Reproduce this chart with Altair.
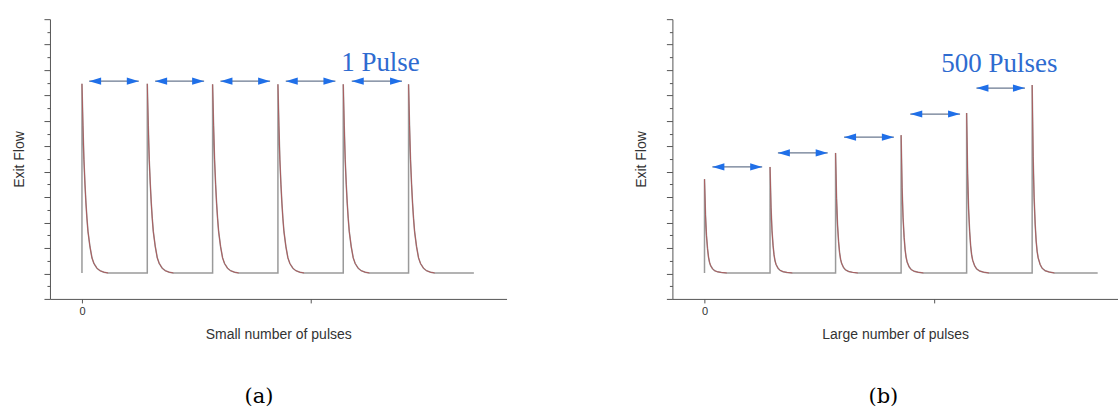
import altair as alt
import pandas as pd

# ---------------- data ----------------
pulse_times = [0, 1, 2, 3, 4, 5]
signal_end = 6.0
baseline = 10.2

left_peaks = [84.6, 84.6, 84.4, 84.4, 84.4, 84.4]
right_peaks = [47.1, 51.9, 57.4, 64.4, 73.1, 84.1]

# decay shape after each pulse: offset (in pulse periods) and fraction of peak height
left_decay_offsets = [0, 0.015, 0.03, 0.046, 0.061, 0.076, 0.092, 0.122, 0.153, 0.183, 0.229, 0.275, 0.336, 0.4]
left_decay_fraction = [1, 0.78, 0.6, 0.47, 0.37, 0.29, 0.22, 0.14, 0.08, 0.05, 0.025, 0.012, 0.004, 0]
right_decay_offsets = [0, 0.015, 0.03, 0.046, 0.061, 0.076, 0.092, 0.122, 0.153, 0.2, 0.26, 0.34]
right_decay_fraction = [1, 0.62, 0.4, 0.26, 0.17, 0.115, 0.08, 0.045, 0.025, 0.012, 0.005, 0]

left_arrow_start = [0.11, 1.12, 2.12, 3.12, 4.13]
left_arrow_end = [0.87, 1.87, 2.88, 3.88, 4.9]
left_arrow_y = [85.6, 85.6, 85.6, 85.6, 85.6]

right_arrow_start = [0.12, 1.12, 2.13, 3.14, 4.15]
right_arrow_end = [0.88, 1.88, 2.89, 3.9, 4.89]
right_arrow_y = [51.9, 57.4, 63.6, 72.7, 82.9]

left_label = "1 Pulse"
right_label = "500 Pulses"
label_pos = [4.57, 92.6]
right_label_pos = [4.5, 92.3]
left_xtitle = "Small number of pulses"
right_xtitle = "Large number of pulses"
captions = ["(a)", "(b)"]
caption_pos = [2.71, -38.5]
right_caption_pos = [2.73, -38.5]

y_major = [0, 10, 20, 30, 40, 50, 60, 70, 80, 90, 100, 110]
y_minor = [5, 15, 25, 35, 45, 55, 65, 75, 85, 95, 105]
x_ticks = [0, 3.5]


def build_signal(peaks, offs, fracs):
    rows, decay = [], []
    i = 0
    for k, (t, p) in enumerate(zip(pulse_times, peaks)):
        rows.append(dict(t=t, v=baseline, order=i)); i += 1
        for o, f in zip(offs, fracs):
            v = baseline + f * (p - baseline)
            rows.append(dict(t=t + o, v=v, order=i)); i += 1
            decay.append(dict(t=t + o, v=v, order=i, pulse=k))
    rows.append(dict(t=signal_end, v=baseline, order=i))
    return pd.DataFrame(rows), pd.DataFrame(decay)


AX = dict(domainColor="#555555", tickColor="#555555", labelColor="#333333",
          titleColor="#333333", labelFont="Liberation Sans", titleFont="Liberation Sans",
          titleFontWeight="normal", titleFontSize=14, labelFontSize=11, grid=False)


def panel(peaks, offs, fracs, a_start, a_end, a_y, label, lpos, xtitle, caption, cpos, width, xmax):
    sig, dec = build_signal(peaks, offs, fracs)
    arrows = pd.DataFrame(dict(t=a_start, t2=a_end, v=a_y))
    heads_l = pd.DataFrame(dict(t=a_start, v=a_y))
    heads_r = pd.DataFrame(dict(t=a_end, v=a_y))
    lab = pd.DataFrame(dict(t=[lpos[0]], v=[lpos[1]], s=[label]))
    cap = pd.DataFrame(dict(t=[cpos[0]], v=[cpos[1]], s=[caption]))

    xs = alt.Scale(domain=[-0.49, xmax], nice=False, zero=False)
    ys = alt.Scale(domain=[0, 110], nice=False, zero=False)

    grey = alt.Chart(sig).mark_line(color="#9a9a9a", strokeWidth=1.5).encode(
        x=alt.X("t:Q", scale=xs, axis=alt.Axis(
            values=x_ticks, labelExpr="datum.value == 0 ? '0' : ''", tickSize=4,
            title=xtitle, titlePadding=11, labelPadding=3, **AX)),
        y=alt.Y("v:Q", scale=ys, axis=alt.Axis(
            values=y_major, labels=False, tickSize=6, title="Exit Flow",
            titlePadding=17, orient="left", **AX)),
        order="order:Q",
    )
    red = alt.Chart(dec).mark_line(color="#b0474a", strokeWidth=1, opacity=0.75).encode(
        x=alt.X("t:Q", scale=xs),
        y=alt.Y("v:Q", scale=ys, axis=alt.Axis(
            values=y_minor, labels=False, tickSize=3, title=None, domain=False,
            orient="left", **AX)),
        detail="pulse:N",
        order="order:Q",
    )
    shafts = alt.Chart(arrows).mark_rule(color="#6a7890", strokeWidth=1.3).encode(
        x=alt.X("t:Q", scale=xs), x2="t2:Q",
        y=alt.Y("v:Q", scale=ys, axis=None),
    )
    hl = alt.Chart(heads_l).mark_point(
        shape="M-1,0L1,-0.6L1,0.6Z", filled=True, opacity=1, color="#1f6fe8",
        size=144, xOffset=6).encode(
        x=alt.X("t:Q", scale=xs), y=alt.Y("v:Q", scale=ys, axis=None))
    hr = alt.Chart(heads_r).mark_point(
        shape="M1,0L-1,-0.6L-1,0.6Z", filled=True, opacity=1, color="#1f6fe8",
        size=144, xOffset=-6).encode(
        x=alt.X("t:Q", scale=xs), y=alt.Y("v:Q", scale=ys, axis=None))
    txt = alt.Chart(lab).mark_text(font="Liberation Serif", fontSize=27,
                                   color="#2e6bd0", align="center", baseline="middle").encode(
        x=alt.X("t:Q", scale=xs), y=alt.Y("v:Q", scale=ys, axis=None), text="s:N")
    capt = alt.Chart(cap).mark_text(font="DejaVu Serif", fontSize=21,
                                    color="#000000", align="center", baseline="middle").encode(
        x=alt.X("t:Q", scale=xs), y=alt.Y("v:Q", scale=ys, axis=None), text="s:N")

    return alt.layer(grey, red, shafts, hl, hr, txt, capt).resolve_axis(
        y="independent").properties(width=width, height=280)


left = panel(left_peaks, left_decay_offsets, left_decay_fraction,
             left_arrow_start, left_arrow_end, left_arrow_y,
             left_label, label_pos, left_xtitle, captions[0], caption_pos, 457, 6.5)
right = panel(right_peaks, right_decay_offsets, right_decay_fraction,
              right_arrow_start, right_arrow_end, right_arrow_y,
              right_label, right_label_pos, right_xtitle, captions[1], right_caption_pos, 446, 6.31)

chart = alt.hconcat(left, right, spacing=166, bounds="flush").properties(
    padding={"left": 12, "top": 18, "right": 0, "bottom": 0},
    background="white",
).configure_view(stroke=None)

chart.save("out.html", embed_options={"renderer": "svg", "actions": False})
